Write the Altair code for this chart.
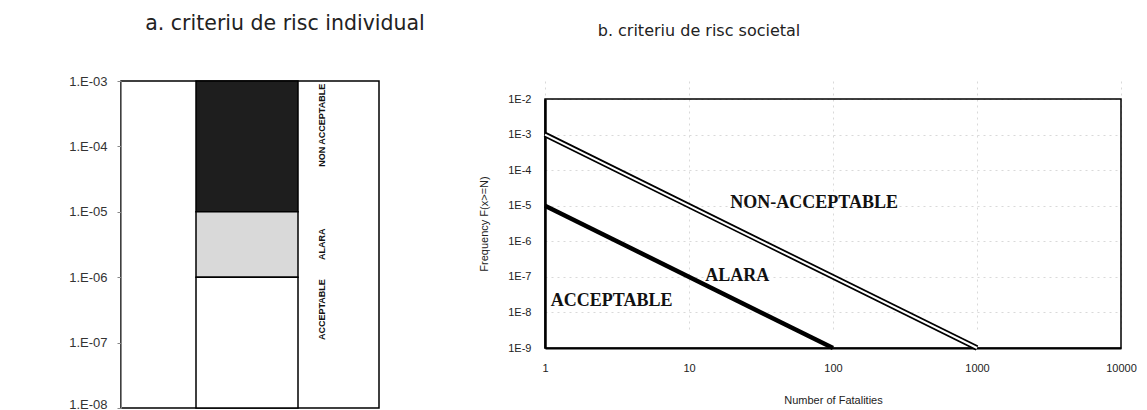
import altair as alt
import pandas as pd

# ---------------- panel a : individual risk criterion ----------------
zone_names = ["NON ACCEPTABLE", "ALARA", "ACCEPTABLE"]
zone_upper = [1e-3, 1e-5, 1e-6]
zone_lower = [1e-5, 1e-6, 1e-8]
zone_colors = ["#1e1e1e", "#d9d9d9", "#ffffff"]
zone_label_y = [2.1e-4, 3.2e-6, 3.2e-7]
a_ticks = [1e-3, 1e-4, 1e-5, 1e-6, 1e-7, 1e-8]
title_a = "a. criteriu de risc individual"

# ---------------- panel b : societal risk criterion ----------------
upper_N = [1, 1000]
upper_F = [1e-3, 1e-9]
lower_N = [1, 100]
lower_F = [1e-5, 1e-9]
b_x_ticks = [1, 10, 100, 1000, 10000]
b_y_ticks = [1e-2, 1e-3, 1e-4, 1e-5, 1e-6, 1e-7, 1e-8, 1e-9]
region_labels = ["NON-ACCEPTABLE", "ALARA", "ACCEPTABLE"]
region_N = [74, 21.6, 2.9]
region_F = [1.2e-5, 1.07e-7, 2.1e-8]
title_b = "b. criteriu de risc societal"

zones = pd.DataFrame({"zone": zone_names, "upper": zone_upper, "lower": zone_lower,
                      "color": zone_colors, "label_y": zone_label_y})
one = pd.DataFrame({"t": [0]})

ya_scale = alt.Scale(type="log", domain=[1e-8, 1e-3])
ya_axis = alt.Axis(values=a_ticks, labelExpr="'1.E-0' + abs(round(log(datum.value)/LN10))",
                   grid=False, title=None, tickSize=4, labelPadding=10, labelFontSize=13,
                   labelFont="Liberation Sans", labelColor="#333", domainColor="#888",
                   tickColor="#888", labelFlush=False,
                   labelBaseline={"condition": {"test": "datum.value < 2e-8", "value": "alphabetic"},
                                  "value": "middle"})

bars = alt.Chart(zones).mark_rect(stroke="black", strokeWidth=1.5).encode(
    x=alt.value(75), x2=alt.value(177),
    y=alt.Y("upper:Q", scale=ya_scale, axis=ya_axis),
    y2="lower:Q",
    fill=alt.Color("color:N", scale=None),
)
zone_text = alt.Chart(zones).mark_text(angle=270, fontSize=9, fontWeight="bold",
                                       font="Liberation Sans", color="#111").encode(
    x=alt.value(201),
    y=alt.Y("label_y:Q", scale=ya_scale, axis=ya_axis),
    text="zone:N",
)
ttl_a = alt.Chart(one).mark_text(fontSize=20.5, font="DejaVu Sans", color="#222").encode(
    x=alt.value(164), y=alt.value(-57), text=alt.value(title_a))
spacer_a1 = alt.Chart(one).mark_text(fontSize=4, color="white", baseline="top", align="left").encode(
    x=alt.value(-70), y=alt.value(-70), text=alt.value("."))
spacer_a2 = alt.Chart(one).mark_text(fontSize=4, color="white", baseline="top", align="right").encode(
    x=alt.value(318), y=alt.value(-70), text=alt.value("."))

chart_a = alt.layer(bars, zone_text, ttl_a, spacer_a1, spacer_a2).properties(
    width=258, height=327, view=alt.ViewBackground(stroke="black", strokeWidth=1.5))

# ---------------- panel b ----------------
up = pd.DataFrame({"N": upper_N, "F": upper_F})
lo = pd.DataFrame({"N": lower_N, "F": lower_F})
regions = pd.DataFrame({"label": region_labels, "N": region_N, "F": region_F})
box = pd.DataFrame({"N0": [b_x_ticks[0]], "N1": [b_x_ticks[-1]],
                    "F0": [b_y_ticks[-1]], "F1": [b_y_ticks[0]]})

xb_scale = alt.Scale(type="log", domain=[b_x_ticks[0], b_x_ticks[-1]])
yb_scale = alt.Scale(type="log", domain=[b_y_ticks[-1], b_y_ticks[0]], range=[267, 18])
xb_axis = alt.Axis(values=b_x_ticks, format="d", title="Number of Fatalities", grid=True,
                   gridDash=[2, 4], gridColor="#d9d9d9", labelFontSize=11, labelFont="Liberation Sans",
                   labelColor="#222", titleFont="Liberation Sans", titleFontSize=11,
                   titleFontWeight="normal", titleColor="#222", tickSize=0, labelPadding=14,
                   titlePadding=21, domainColor="black", domainWidth=2, labelFlush=False)
yb_axis = alt.Axis(values=b_y_ticks, labelExpr="'1E' + round(log(datum.value)/LN10)",
                   title="Frequency F(x>=N)", grid=True, gridDash=[2, 4], gridColor="#d9d9d9",
                   labelFontSize=11, labelFont="Liberation Sans", labelColor="#222",
                   titleFont="Liberation Sans", titleFontSize=11, titleFontWeight="normal",
                   titleColor="#222", tickSize=0, labelPadding=14, titlePadding=18,
                   domainColor="black", domainWidth=2.5, labelFlush=False)

x_b = alt.X("N:Q", scale=xb_scale, axis=xb_axis)
y_b = alt.Y("F:Q", scale=yb_scale, axis=yb_axis)

frame = alt.Chart(box).mark_rect(fill="transparent", stroke="black", strokeWidth=1.5).encode(
    x=alt.X("N0:Q", scale=xb_scale, axis=xb_axis), x2="N1:Q",
    y=alt.Y("F0:Q", scale=yb_scale, axis=yb_axis), y2="F1:Q")
up_outer = alt.Chart(up).mark_line(color="black", strokeWidth=5.5).encode(x=x_b, y=y_b)
up_inner = alt.Chart(up).mark_line(color="white", strokeWidth=2).encode(x="N:Q", y="F:Q")
lo_line = alt.Chart(lo).mark_line(color="black", strokeWidth=4.5).encode(x="N:Q", y="F:Q")
reg_text = alt.Chart(regions).mark_text(font="Liberation Serif", fontWeight="bold", fontSize=18,
                                        color="#111").encode(x="N:Q", y="F:Q", text="label:N")
ttl_b = alt.Chart(one).mark_text(fontSize=16, font="DejaVu Sans", color="#222").encode(
    x=alt.value(154), y=alt.value(-50), text=alt.value(title_b))
spacer_b = alt.Chart(one).mark_text(fontSize=4, color="white", baseline="top", align="left").encode(
    x=alt.value(-75), y=alt.value(0), text=alt.value("."))

chart_b = alt.layer(frame, up_outer, up_inner, lo_line, reg_text, ttl_b, spacer_b).properties(
    width=576, height=267, view=alt.ViewBackground(strokeWidth=0, strokeOpacity=0))

chart = alt.hconcat(chart_a, chart_b, spacing=30).properties(
    padding={"left": 42, "top": 2, "right": 0, "bottom": 0}, background="white"
)

chart.save("out.html", embed_options={"renderer": "svg", "actions": False})
